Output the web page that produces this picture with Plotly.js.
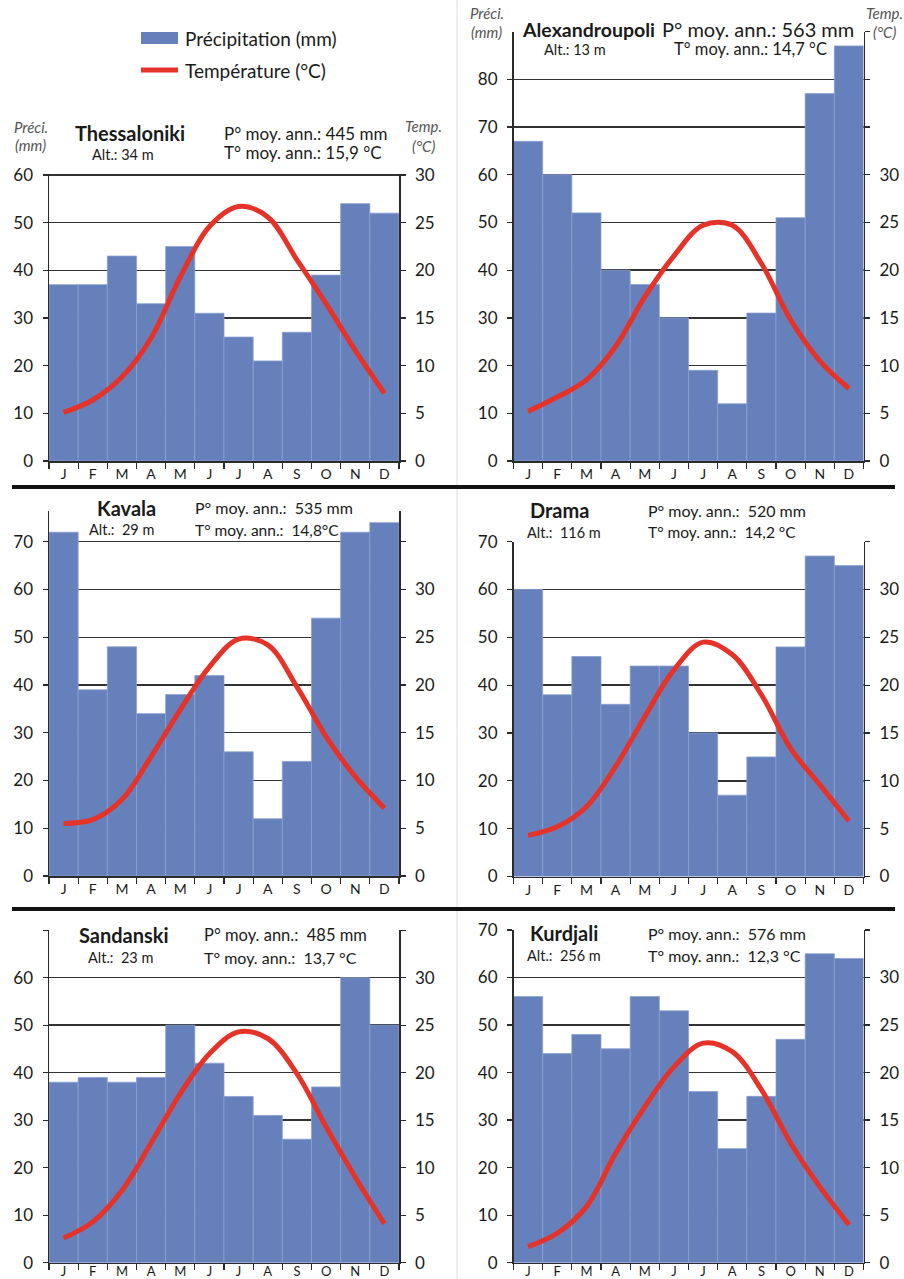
<!DOCTYPE html>
<html>
<head>
<meta charset="utf-8">
<script src="https://cdn.plot.ly/plotly-3.0.1.min.js"></script>
<style>
html,body{margin:0;padding:0;background:#fff;}
#chart{width:904px;height:1279px;}
</style>
</head>
<body>
<div id="chart"></div>
<script>
// ---------------- DATA ----------------
const months = ['J','F','M','A','M','J','J','A','S','O','N','D'];
const stations = ['Thessaloniki','Alexandroupoli','Kavala','Drama','Sandanski','Kurdjali'];
const altitudes = ['Alt.: 34 m','Alt.: 13 m','Alt.:\u00a0 29 m','Alt.:\u00a0 116 m','Alt.:\u00a0 23 m','Alt.:\u00a0 256 m'];
const precipTotals = ['P° moy. ann.: 445 mm','P° moy. ann.: 563 mm','P° moy. ann.:\u00a0 535 mm','P° moy. ann.:\u00a0 520 mm','P° moy. ann.:\u00a0 485 mm','P° moy. ann.:\u00a0 576 mm'];
const tempMeans = ['T° moy. ann.: 15,9 °C','T° moy. ann.: 14,7 °C','T° moy. ann.:\u00a0 14,8°C','T° moy. ann.:\u00a0 14,2 °C','T° moy. ann.:\u00a0 13,7 °C','T° moy. ann.:\u00a0 12,3 °C'];

const thessalonikiPrecip = [37,37,43,33,45,31,26,21,27,39,54,52];
const thessalonikiTemp   = [5.1,6.4,8.8,12.9,19.3,24.6,26.7,25.6,21.1,16.5,11.6,7.1];
const alexandroupoliPrecip = [67,60,52,40,37,30,19,12,31,51,77,87];
const alexandroupoliTemp   = [5.2,6.7,8.5,12.0,17.2,21.5,24.7,24.7,20.7,14.8,10.5,7.6];
const kavalaPrecip = [72,39,48,34,38,42,26,12,24,54,72,74];
const kavalaTemp   = [5.5,5.9,8.0,12.5,17.4,21.9,24.8,24.2,19.8,14.6,10.4,7.1];
const dramaPrecip = [60,38,46,36,44,44,30,17,25,48,67,65];
const dramaTemp   = [4.3,5.2,7.3,11.5,16.7,21.6,24.5,23.2,19.0,13.4,9.6,5.8];
const sandanskiPrecip = [38,39,38,39,50,42,35,31,26,37,60,50];
const sandanskiTemp   = [2.6,4.3,7.6,12.6,17.8,22.0,24.3,23.6,19.9,14.3,9.0,4.1];
const kurdjaliPrecip = [56,44,48,45,56,53,36,24,35,47,65,64];
const kurdjaliTemp   = [1.7,3.1,5.9,11.5,16.4,20.6,23.1,22.2,18.2,12.6,8.0,4.0];

const precipSeries = [thessalonikiPrecip, alexandroupoliPrecip, kavalaPrecip, dramaPrecip, sandanskiPrecip, kurdjaliPrecip];
const tempSeries = [thessalonikiTemp, alexandroupoliTemp, kavalaTemp, dramaTemp, sandanskiTemp, kurdjaliTemp];
const precipTickTop = [60, 80, 70, 70, 60, 70];   // last labelled precipitation tick
const precipTickMax = [60, 80, 70, 70, 70, 70];   // last precipitation tick mark
const precipAxisTop = [60.3, 90, 76.5, 70, 70, 70];
const tempTickTop = [30, 45, 35, 35, 35, 35];

// ---------------- LAYOUT GEOMETRY ----------------
const W = 904, H = 1279;
const BAR = '#6580bb', RED = '#e5332a', AX = '#2b2b2b';
const FONT = 'Lato, "Open Sans", sans-serif';
const colX = [[49, 399], [513.5, 863.5]];
// [zero px, top px]
const rowY = [[461, 173.6], [461, 31.6], [876, 510.7], [876.5, 541.7], [1262.7, 930.2], [1262.7, 930]];

const px = v => v / W;
const py = v => 1 - v / H;

const xVals = months.map((m, i) => i + 1);
const boundaries = [];
for (let i = 0; i <= 12; i++) boundaries.push(i + 0.5);

const data = [];
const layout = {
  width: W, height: H,
  margin: {l: 0, r: 0, t: 0, b: 0},
  paper_bgcolor: '#ffffff', plot_bgcolor: 'rgba(0,0,0,0)',
  showlegend: false,
  bargap: 0,
  font: {family: FONT, color: '#1a1a1a'},
  annotations: [], shapes: []
};

for (let i = 0; i < 6; i++) {
  const col = i % 2;
  const bottomRow = i >= 4;
  const xid = i === 0 ? 'x' : 'x' + (i + 1);
  const xkey = i === 0 ? 'xaxis' : 'xaxis' + (i + 1);
  const yl = 2 * i + 1, yr = 2 * i + 2;
  const ylid = yl === 1 ? 'y' : 'y' + yl;
  const ylkey = yl === 1 ? 'yaxis' : 'yaxis' + yl;
  const yrid = 'y' + yr, yrkey = 'yaxis' + yr;
  const [zeroPx, topPx] = rowY[i];

  data.push({
    type: 'bar', x: xVals, y: precipSeries[i], width: 1,
    xaxis: xid, yaxis: ylid,
    marker: {color: BAR, line: {color: '#8a9fd0', width: 0.8}},
    hoverinfo: 'skip'
  });
  data.push({
    type: 'scatter', mode: 'lines', x: xVals, y: tempSeries[i],
    xaxis: xid, yaxis: yrid,
    line: {color: RED, width: 5, shape: 'spline', smoothing: 1},
    hoverinfo: 'skip'
  });

  layout[xkey] = {
    domain: [px(colX[col][0]), px(colX[col][1])],
    anchor: ylid,
    range: [0.5, 12.5],
    tickmode: 'array', tickvals: xVals, ticktext: months,
    ticks: '', showgrid: false, zeroline: false,
    showline: true, linecolor: AX, linewidth: 1.5,
    ticklabelstandoff: bottomRow ? -4 : 0,
    tickfont: {size: bottomRow ? 13 : 14, family: FONT, color: '#1a1a1a'},
    minor: {tickmode: 'array', tickvals: boundaries, ticks: 'outside', ticklen: 6, tickwidth: 1.3, tickcolor: AX, showgrid: false},
    fixedrange: true
  };

  const lv = [], lt = [];
  for (let v = 0; v <= precipTickMax[i]; v += 10) {
    lv.push(v); lt.push(v <= precipTickTop[i] ? String(v) : '');
  }
  layout[ylkey] = {
    domain: [py(zeroPx), py(topPx)],
    anchor: xid,
    range: [0, precipAxisTop[i]],
    tickmode: 'array', tickvals: lv, ticktext: lt,
    ticks: 'outside', ticklen: 5, tickwidth: 1.3, tickcolor: AX,
    ticklabelstandoff: 6,
    showgrid: true, gridcolor: '#333333', gridwidth: 1.4,
    zeroline: false, showline: true, linecolor: AX, linewidth: 1.5,
    tickfont: {size: 17, family: FONT, color: '#1a1a1a'},
    fixedrange: true
  };

  const rv = [], rt = [];
  for (let v = 0; v <= tempTickTop[i]; v += 5) { rv.push(v); rt.push(v <= 30 ? String(v) : ''); }
  layout[yrkey] = {
    overlaying: ylid, side: 'right', anchor: xid,
    range: [0, precipAxisTop[i] / 2],
    tickmode: 'array', tickvals: rv, ticktext: rt,
    ticks: 'outside', ticklen: 5, tickwidth: 1.3, tickcolor: AX,
    ticklabelstandoff: 6,
    showgrid: false, zeroline: false, showline: true, linecolor: AX, linewidth: 1.5,
    tickfont: {size: 17, family: FONT, color: '#1a1a1a'},
    fixedrange: true
  };
}

// ---------------- TEXT ----------------
function ann(text, x, y, opts) {
  layout.annotations.push(Object.assign({
    text: text, xref: 'paper', yref: 'paper', x: px(x), y: py(y),
    xanchor: 'center', yanchor: 'middle', showarrow: false,
    font: {family: FONT, size: 15, color: '#1a1a1a'}
  }, opts || {}));
}
const f = (size, extra) => Object.assign({family: FONT, size: size, color: '#1a1a1a'}, extra || {});
const unitStyle = f(15, {color: '#555555', style: 'italic'});

// [name size, P size, T size]
const headerSizes = [[20, 17, 17], [19.5, 20, 16.5], [20, 16, 15.5], [20, 16, 15.5], [20, 16.5, 16], [20, 16, 16]];
// positions: [name cx, name y, alt cx, alt y, P x, P y, T x, T y]
const headerPos = [
  [130, 133, 123, 154, 222, 133, 222, 152],
  [588, 29, 575, 49, 660, 29, 672, 49],
  [126, 508, 122, 530, 193, 508, 193, 530],
  [559, 510, 564, 532, 646, 510, 646, 532],
  [124, 935, 120, 957, 202, 935, 202, 957],
  [564, 933, 564, 956, 646, 933, 646, 956]
];
for (let i = 0; i < 6; i++) {
  const p = headerPos[i], s = headerSizes[i];
  ann('<b>' + stations[i] + '</b>', p[0], p[1], {font: f(s[0], {weight: 'bold'})});
  ann(altitudes[i], p[2], p[3], {font: f(14.5)});
  ann(precipTotals[i], p[4], p[5], {xanchor: 'left', font: f(s[1])});
  ann(tempMeans[i], p[6], p[7], {xanchor: 'left', font: f(s[2])});
}
ann('Préci.', 31, 127, {font: unitStyle});
ann('(mm)', 31, 145, {font: unitStyle});
ann('Temp.', 423, 126, {font: unitStyle});
ann('(°C)', 423, 146, {font: unitStyle});
ann('Préci.', 487, 13, {font: unitStyle});
ann('(mm)', 486, 32, {font: unitStyle});
ann('Temp.', 884, 13, {font: unitStyle});
ann('(°C)', 884, 32, {font: unitStyle});

// legend
layout.shapes.push({type: 'rect', xref: 'paper', yref: 'paper', x0: px(141), x1: px(178), y0: py(44), y1: py(32), fillcolor: BAR, line: {width: 0}});
layout.shapes.push({type: 'line', xref: 'paper', yref: 'paper', x0: px(141), x1: px(178), y0: py(70), y1: py(70), line: {color: RED, width: 5}});
ann('Précipitation (mm)', 183, 39, {xanchor: 'left', font: f(19)});
ann('Température (°C)', 183, 70, {xanchor: 'left', font: f(19)});

// separators
layout.shapes.push({type: 'line', xref: 'paper', yref: 'paper', x0: px(457), x1: px(457), y0: 0, y1: 1, line: {color: '#dcdcdc', width: 1}, layer: 'below'});
layout.shapes.push({type: 'line', xref: 'paper', yref: 'paper', x0: px(12), x1: px(895), y0: py(487), y1: py(487), line: {color: '#111111', width: 4}});
layout.shapes.push({type: 'line', xref: 'paper', yref: 'paper', x0: px(12), x1: px(895), y0: py(909), y1: py(909), line: {color: '#111111', width: 4}});

Plotly.newPlot('chart', data, layout, {staticPlot: true, displayModeBar: false});
</script>
</body>
</html>
